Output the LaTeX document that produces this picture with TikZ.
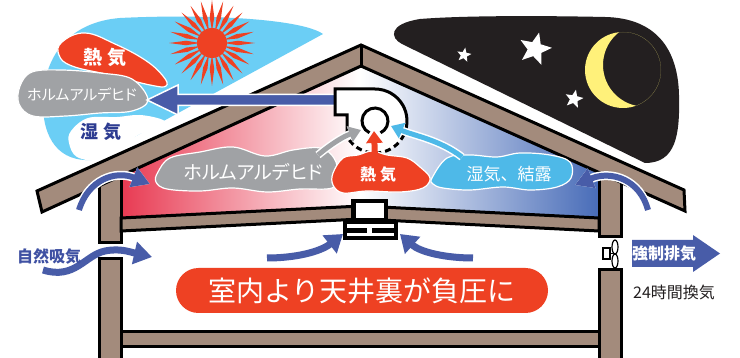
\documentclass[tikz,border=0pt]{standalone}
\usepackage{fontspec}
\newfontfamily\jpfont{Noto Sans CJK JP}
\newfontfamily\jpprop[RawFeature=+palt]{Noto Sans CJK JP}
\usetikzlibrary{arrows.meta,shapes.geometric}

\definecolor{heat}{RGB}{238,65,35}
\definecolor{flowblue}{RGB}{72,92,168}
\definecolor{skyblue}{RGB}{107,206,245}
\definecolor{steam}{RGB}{78,185,232}
\definecolor{fog}{RGB}{160,162,165}
\definecolor{woodbrown}{RGB}{163,139,124}
\definecolor{night}{RGB}{35,31,32}
\definecolor{moon}{RGB}{255,241,122}
\definecolor{inkblue}{RGB}{45,60,145}
\definecolor{labelblue}{RGB}{63,81,163}
\definecolor{atticred}{RGB}{232,58,82}
\definecolor{atticblue}{RGB}{72,108,184}

\tikzset{
  wood/.style={fill=woodbrown, draw=black, line width=3pt, line join=miter},
  blob/.style={draw=white, line width=1.2pt},
  flowarrow/.style={draw=flowblue, line width=7pt, -{Triangle[length=17pt,width=22pt]}},
  halo/.style={preaction={draw=white, line width=#1}},
  txt/.style={inner sep=0pt, text=white},
  starshape/.style={star, star points=5, star point ratio=2.3, fill=white, inner sep=0pt, draw=none}
}

\begin{document}
\begin{tikzpicture}[x=1pt,y=-1pt]
\useasboundingbox (0,0) rectangle (740,358);
\fill[white] (0,0) rectangle (740,358);

% ---------- daytime sky ----------
\fill[skyblue] (323,34) .. controls (300,18) and (200,14) .. (120,18)
  .. controls (70,22) and (44,55) .. (43,100)
  .. controls (42,140) and (60,162) .. (92,160) -- cycle;

\begin{scope}[shift={(212,43)}]
  \fill[heat] (0,0) circle (15);
  \foreach \a in {0,15,...,345}
    \fill[heat] (\a:12) -- (\a+5:26) -- (\a:43) -- (\a-5:26) -- cycle;
\end{scope}

\draw[blob, fill=heat] plot[smooth cycle, tension=0.7] coordinates
  {(62,42) (85,33) (115,44) (145,60) (163,76) (166,86) (150,85) (110,75) (72,66) (59,55)};
\node[txt, font=\jpfont\bfseries\fontsize{19}{19}\selectfont] (skyheat) at (105,57) {熱\hspace{5pt}気};

\draw[blob, fill=fog] plot[smooth cycle, tension=0.6] coordinates
  {(20,86) (32,72) (62,70) (100,73) (132,79) (148,100) (132,111) (100,113) (66,116) (33,116) (19,104)};
\node[txt, font=\jpprop\fontsize{15}{15}\selectfont] (skyform) at (82,95) {ホルムアルデヒド};

\fill[white] plot[smooth cycle, tension=0.6] coordinates
  {(71,131) (88,118) (117,117) (140,115) (163,120) (166,128) (140,134) (123,147) (100,160) (77,157) (69,143)};
\node[txt, text=inkblue, font=\jpfont\bfseries\fontsize{18}{18}\selectfont] (skywet) at (101,132) {湿\hspace{5pt}気};

% ---------- night sky ----------
\fill[night] (402,44) .. controls (390,38) and (388,24) .. (420,19)
  .. controls (470,15) and (560,16) .. (605,17)
  .. controls (655,18) and (678,48) .. (679,95)
  .. controls (680,135) and (676,163) .. (645,163) -- cycle;
\begin{scope}
  \clip (623,70) circle (38);
  \fill[moon, even odd rule] (623,70) circle (38) (644.6,65) circle (41.6);
\end{scope}
\node[starshape, minimum size=34pt, rotate=-14] (bigstar) at (535,49) {};
\node[starshape, minimum size=15pt, rotate=-10] (smallstar) at (464,55) {};
\node[starshape, minimum size=19pt, rotate=-12] (lowstar) at (574,99) {};

% ---------- attic ----------
\shade[left color=atticred, right color=atticblue, middle color=white]
  (121,175) -- (361,66) -- (599,174) -- (599,219) -- (361,206) -- (121,219) -- cycle;

% posts, ceiling joist and floor
\draw[wood] (99,170) rectangle (121,243);
\draw[wood] (99,259) rectangle (121,362);
\draw[wood] (599,170) rectangle (621,237);
\draw[wood] (599,270) rectangle (621,362);
\draw[wood] (121,218) -- (361,206) -- (599,218) -- (599,231) -- (361,219) -- (121,231) -- cycle;
\draw[wood] (121,332) rectangle (599,347);

% roof
\draw[wood] (37,191) -- (361,45) -- (684,190) -- (685,211) -- (361,66) -- (42,212) -- cycle;
\draw[line width=3pt] (361,45) -- (361,66);

% exhaust towards the daytime sky
\draw[white, line width=1.5pt, fill=flowblue]
  (147,100) -- (178,85) -- (178,94.5) -- (336,94.5) -- (336,105.5) -- (178,105.5) -- (178,115) -- cycle;

% roof fan housing
\fill[white] (335,89) -- (375,89) arc[start angle=-90, end angle=150, radius=32]
  -- (347,115) -- (335,115) -- cycle;
\draw[line width=3pt, line join=miter] (347,137) -- (347,115) -- (335,115) -- (335,89) -- (375,89)
  arc[start angle=-90, end angle=25, radius=32];
\draw[line width=3pt, dash pattern=on 6pt off 4pt] ([shift={(25:32)}]375,121)
  arc[start angle=25, end angle=150, radius=32];
\draw[line width=3pt] ([shift={(115:13)}]375,121) arc[start angle=115, end angle=425, radius=13];

% attic clouds
\draw[blob, fill=fog] plot[smooth cycle, tension=0.6] coordinates
  {(158,172) (170,158) (200,152) (233,147) (265,156) (293,150) (320,148) (334,158) (338,175) (332,188) (300,189) (267,192) (233,188) (200,191) (167,189) (156,182)};
\node[txt, font=\jpprop\fontsize{19}{19}\selectfont] (atticform) at (253,172) {ホルムアルデヒド};

\draw[blob, fill=heat] plot[smooth cycle, tension=0.6] coordinates
  {(333,173) (343,158) (358,155) (372,151) (387,155) (407,158) (420,167) (430,178) (423,188) (400,192) (367,191) (343,193) (333,185)};
\node[txt, font=\jpfont\bfseries\fontsize{16}{16}\selectfont] (atticheat) at (378,175) {熱\hspace{4pt}気};

\draw[blob, fill=steam] plot[smooth cycle, tension=0.6] coordinates
  {(432,178) (447,158) (470,155) (497,157) (520,153) (550,155) (570,162) (571,178) (557,187) (530,190) (503,187) (470,190) (443,188) (433,184)};
\node[txt, font=\jpfont\fontsize{17}{17}\selectfont] (atticwet) at (509,174) {湿気、結露};

% flows into the fan
\draw[heat, line width=6pt, -{Triangle[length=12pt,width=16pt]}] (375,158) -- (374,131);
\draw[fog, line width=5pt, halo=8pt, -{Triangle[length=12pt,width=16pt]}]
  (318,155) .. controls (335,141) and (345,136) .. (361,130);
\draw[steam, line width=5pt, halo=8pt, -{Triangle[length=12pt,width=16pt]}]
  (462,157) .. controls (440,140) and (415,136) .. (391,126);

% ceiling vent
\fill[black] (351,199) rectangle (388,222);
\fill[white] (355.5,203.5) rectangle (383.5,218.5);
\fill[black] (343,221) rectangle (398,240);
\fill[white] (347,224.5) rectangle (394,228);
\fill[white] (347,233) rectangle (394,236.5);
\fill[white] (367,228) rectangle (372,233);

% room air towards the ceiling vent
\draw[flowarrow] (267,258) .. controls (295,258) and (320,252) .. (343,234);
\draw[flowarrow] (473,258) .. controls (445,258) and (420,252) .. (400,234);

% eave and wall flows
\draw[flowarrow, line width=6pt, halo=9pt, -{Triangle[length=18pt,width=20pt]}]
  (79,210) .. controls (88,180) and (115,170) .. (150,184);
\draw[flowarrow, line width=6pt, halo=9pt, -{Triangle[length=18pt,width=20pt]}]
  (648,210) .. controls (640,180) and (612,170) .. (575,185);
\draw[flowarrow, -{Triangle[length=18pt,width=22pt]}]
  (43,270) .. controls (75,280) and (85,255) .. (105,251)
  .. controls (120,248) and (130,252) .. (152,257);
\node[txt, text=labelblue, font=\jpfont\bfseries\fontsize{16}{16}\selectfont] (intake) at (49,256) {自然吸気};

% exhaust fan in the wall
\draw[line width=1.2pt, fill=white] (603,248) rectangle (610,259);
\draw[line width=1.2pt] (610,253.5) -- (614,253.5);
\draw[line width=1.2pt, fill=white] (615,247) ellipse (3 and 7);
\draw[line width=1.2pt, fill=white] (615,261) ellipse (3 and 7);

\fill[flowblue] (632,240) -- (693,240) -- (693,235) -- (720,253.5) -- (693,272) -- (693,267) -- (632,267) -- cycle;
\node[txt, font=\jpfont\bfseries\fontsize{16}{16}\selectfont] (forced) at (664,253.5) {強制排気};
\node[txt, text=night, font=\jpfont\fontsize{16}{16}\selectfont] (allday) at (674,292) {24時間換気};

% banner
\node[fill=heat, minimum width=372pt, minimum height=45pt, rounded corners=22.5pt,
  text=white, inner sep=0pt, font=\jpfont\fontsize{28}{28}\selectfont] (banner) at (362,290.5)
  {室内より天井裏が負圧に};
\end{tikzpicture}
\end{document}
